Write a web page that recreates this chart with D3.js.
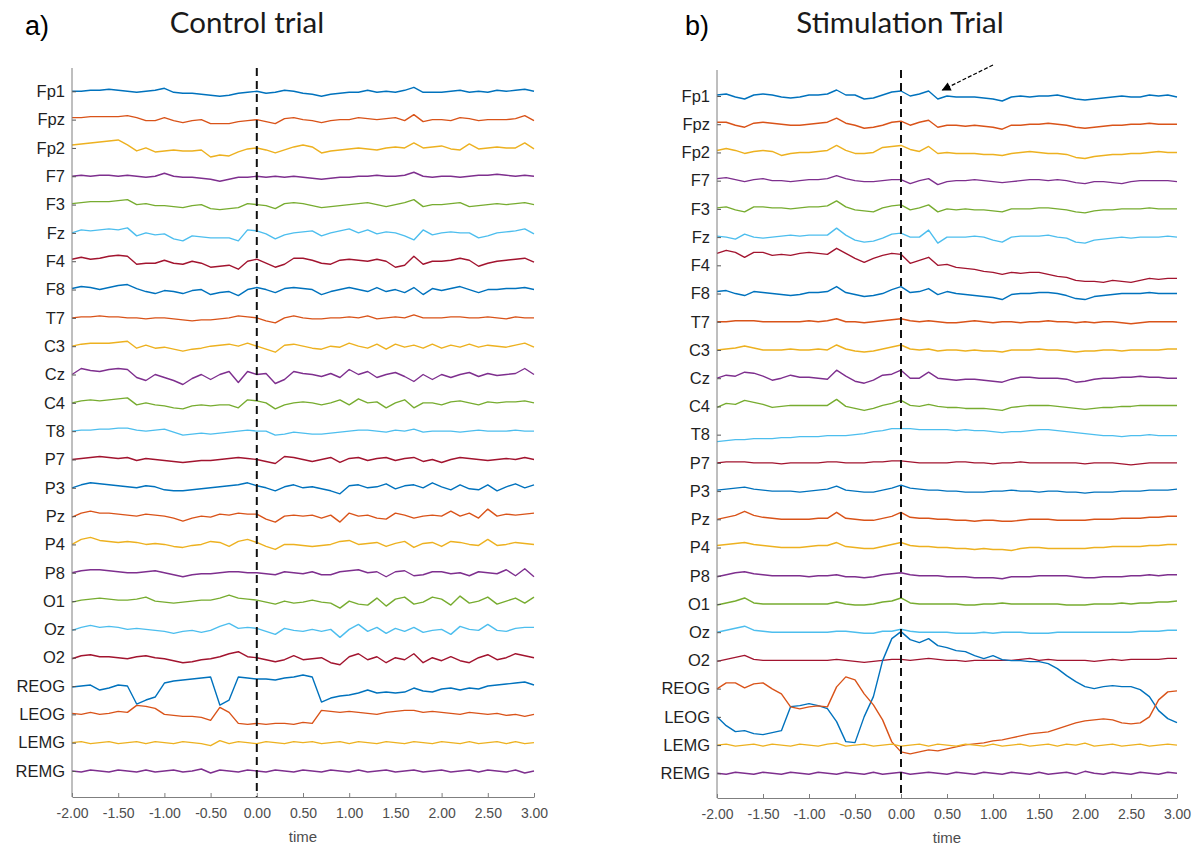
<!DOCTYPE html>
<html lang="en">
<head>
<meta charset="UTF-8">
<title>EEG - control vs stimulation trial</title>
<style>
  body { margin: 0; background: #fff; }
  svg { display: block; }
</style>
</head>
<body>
<svg id="chart" width="1201" height="848"></svg>
<script src="https://cdn.jsdelivr.net/npm/d3@7/dist/d3.min.js"></script>
<script>
// channel names, top to bottom
const channels = ['Fp1', 'Fpz', 'Fp2', 'F7', 'F3', 'Fz', 'F4', 'F8', 'T7', 'C3', 'Cz', 'C4', 'T8',
  'P7', 'P3', 'Pz', 'P4', 'P8', 'O1', 'Oz', 'O2', 'REOG', 'LEOG', 'LEMG', 'REMG'];
const timeTicks = [-2, -1.5, -1, -0.5, 0, 0.5, 1, 1.5, 2, 2.5, 3];
// one sample every 0.1 s from -2.0 to 3.0
const sampleTimes = d3.range(51).map(i => -2 + i / 10);

// ---- a) control trial, amplitudes (uV, up = positive)
const ctrlFp1 = [0,0,1,1,2,1,0,-1,0,1, 3,-1,-2,-2,-3,-4,-5,-4,-2,-1, 0,-2,-1,1,0,-2,-3,-5,-3,-2, -1,-1,1,-1,0,-1,1,4,-1,-1, -1,0,1,-1,0,-1,1,0,1,2, 0];
const ctrlFpz = [2,2,3,3,3,3,4,2,-1,-1, 2,-1,-3,-1,0,-4,-4,-4,-2,-1, 0,-2,-4,1,2,0,-1,-3,-1,0, 0,2,1,0,1,2,-1,5,-2,0, 0,-1,2,1,-1,0,0,0,1,4, -1];
const ctrlFp2 = [3,4,5,6,7,8,3,-3,0,-4, -3,-2,-3,-3,-2,-9,-7,-8,-4,-1, 0,-2,-5,-2,1,3,1,-5,-3,-2, -1,0,-1,-2,0,1,0,5,0,1, 2,-1,-2,4,-1,0,1,0,0,5, -1];
const ctrlF7 = [0,1,0,1,1,0,1,0,-1,0, 3,0,-1,-1,-2,-3,-5,-3,-1,-1, 0,-1,0,-1,0,-1,-2,-3,-2,-1, -1,0,0,1,0,0,1,4,0,-1, 0,0,-1,0,1,1,2,1,0,1, 0];
const ctrlF3 = [1,2,3,3,3,4,5,0,1,-1, -1,-2,-3,-1,0,-4,-5,-4,-3,1, 0,-1,-4,1,2,1,-1,-3,-2,-1, 0,1,2,0,-2,0,2,5,-2,0, 0,1,2,-2,-1,0,1,0,1,2, 0];
const ctrlFz = [0,3,2,3,4,3,5,-3,0,-2, -1,-6,-8,-3,-4,-5,-5,-5,-8,3, 2,-1,-6,-2,0,1,2,-3,0,2, 4,0,3,-1,1,0,-3,-7,3,-2, 0,1,0,0,-5,-3,0,1,2,4, -1];
const ctrlF4 = [2,4,2,3,5,6,5,-3,-2,-2, 1,-2,-3,0,-2,-6,-5,-4,-8,0, 2,-2,-6,-3,3,3,1,-2,-3,1, 2,1,0,2,0,-6,-4,5,-3,0, 0,1,3,1,-5,-2,0,1,2,3, -1];
const ctrlF8 = [1,3,2,0,2,4,5,1,-2,-4, -1,-2,-4,-1,0,-5,-3,-2,-6,0, 2,0,-3,1,2,1,0,-5,-2,0, 2,0,-2,2,-2,0,-3,2,-5,1, -1,1,3,0,-3,0,0,1,1,2, 0];
const ctrlT7 = [0,1,1,2,1,1,0,0,-1,0, 0,-1,-2,-3,-2,-2,-1,0,2,1, 0,-3,-5,0,2,0,-1,-1,0,0, 1,0,2,-1,0,1,0,3,0,0, 0,1,1,0,0,1,0,-1,1,0, 0];
const ctrlC3 = [0,2,3,3,3,4,5,-2,1,-2, -1,-3,-5,-3,-2,0,1,2,0,3, 0,-3,-6,1,2,0,-2,-3,0,-1, 3,0,-2,2,-3,2,-1,1,-2,2, -2,1,-1,2,-1,1,0,-1,1,3, -1];
const ctrlCz = [0,6,4,3,5,6,5,-3,-6,0, -3,-6,-10,-4,0,-5,0,3,-8,3, 0,1,-9,-5,3,1,0,-2,1,-3, 5,0,3,-3,0,2,-2,-7,0,-5, 0,-3,0,2,-2,1,-1,0,1,6, 0];
const ctrlC4 = [0,2,3,2,3,4,5,-2,0,-2, -3,-5,-6,-3,-2,-3,-2,-2,-5,3, 2,0,-6,-2,0,1,0,-2,0,3, -2,4,0,1,-5,0,3,-5,0,0, -2,1,2,0,-2,1,0,1,1,2, 0];
const ctrlT8 = [0,1,1,2,2,3,3,1,0,1, 2,-1,-4,-3,-2,-3,-2,-1,0,1, 0,0,-4,-3,-1,-2,-3,-3,-2,-1, 0,1,1,0,-1,1,0,2,-1,0, 0,0,-1,0,1,0,0,0,1,0, 0];
const ctrlP7 = [0,1,2,3,2,1,2,-1,1,0, -1,-2,-3,-2,-1,-1,0,1,2,1, 0,-2,-4,3,2,0,-2,0,2,-3, 1,2,-1,1,2,-1,1,2,-2,0, -3,0,2,1,0,-1,0,1,0,2, 0];
const ctrlP3 = [0,3,5,4,3,2,1,0,2,1, -2,-3,-3,-2,-1,0,1,2,3,5, 2,0,-3,1,3,0,1,-1,-3,-6, 2,3,0,1,4,-1,2,3,0,5, 1,-2,3,-1,-2,3,-3,1,4,0, 3];
const ctrlPz = [-1,3,5,3,3,2,1,0,2,1, 0,-2,-5,-2,0,-1,2,1,3,2, 2,-3,-6,0,1,0,1,-2,1,-6, 3,0,1,-2,-3,3,1,-2,0,1, 0,5,0,3,-2,7,0,2,1,2, 3];
const ctrlP4 = [0,5,7,4,3,2,3,2,0,1, 0,-2,-3,-1,0,3,2,-2,3,5, 2,-2,-5,0,0,-1,-2,-1,0,3, 4,0,1,2,-2,1,3,-3,1,2, -2,3,2,0,-1,5,-1,0,2,1, 0];
const ctrlP8 = [0,2,3,3,2,1,0,0,1,2, 0,-2,-4,-2,-1,-1,0,1,1,0, 0,-1,-2,1,0,-1,1,-2,-2,1, 2,3,0,1,-4,1,2,-3,-2,1, 1,-1,0,-3,1,0,-1,3,-3,4, -4];
const ctrlO1 = [-1,1,2,3,2,1,1,2,4,0, -1,-2,-1,0,1,1,3,6,3,2, 1,-1,-3,0,-2,-1,1,-1,-2,-7, 0,-3,-4,3,-5,2,4,-3,-1,4, 2,-4,5,-2,0,4,-3,0,3,-2, 4];
const ctrlOz = [-1,2,4,2,3,2,0,1,0,-1, -2,-4,-2,-1,-3,-1,3,6,1,2, 1,-2,-5,1,-1,-2,0,-2,0,-8, 0,5,-2,2,-4,1,-2,2,-3,-1, 0,-5,3,0,-1,5,-1,-2,1,2, 2];
const ctrlO2 = [-1,2,3,1,1,0,-1,1,2,0, -1,-3,-5,-4,-2,-1,1,4,6,1, 0,-2,-4,-2,2,-2,-1,0,-5,-7, 1,4,-2,1,-5,0,-2,4,-5,0, -3,1,-3,-5,0,3,-2,0,4,2, 0];
const ctrlREOG = [-1,0,1,-4,-2,1,0,-18,-14,-11, 3,5,6,7,8,9,-19,-14,9,8, 7,7,6,8,9,11,9,-16,-12,-10, -9,-7,-4,-7,-6,-7,-6,-2,-5,-6, -3,-2,-4,-2,-3,0,1,2,3,4, 1];
const ctrlLEOG = [1,0,2,0,1,3,2,9,8,6, 0,-1,-2,-2,-3,-6,7,2,-9,-10, -9,-10,-9,-9,-10,-8,-9,4,3,2, 3,2,1,0,2,3,4,4,2,3, 2,1,0,2,1,0,1,-1,0,-2, 0];
const ctrlLEMG = [0,1,-1,0,1,-1,0,1,-1,1, 0,-1,1,0,-1,-3,2,-1,1,0, -1,1,0,-1,1,0,1,-1,0,1, -1,1,0,-1,1,0,-1,1,0,-1, 1,0,-1,1,-1,0,1,-1,1,-1, 0];
const ctrlREMG = [0,-1,1,0,-1,1,0,-1,1,-1, 0,1,-1,0,2,-2,1,0,-1,1, 0,-1,1,0,-1,1,0,-1,1,0, -1,1,-1,0,1,-1,0,1,-1,0, 1,-1,0,1,-1,1,0,-1,1,-2, 0];

// ---- b) stimulation trial
const stimFp1 = [1,2,-1,-3,1,2,1,-1,-2,-1, 1,1,2,6,1,1,-3,-2,1,4, 5,0,2,5,-3,0,-1,-1,-1,-2, -3,-5,-1,0,-1,0,0,1,-1,-3, -4,-3,-2,-1,0,-1,-1,1,0,1, -1];
const stimFpz = [2,2,-1,-3,1,2,1,0,-1,-1, 0,1,2,6,1,-1,-4,-3,-1,2, 3,-1,2,4,-3,-1,-1,-2,-1,-2, -3,-5,-1,-1,0,0,1,0,-1,-3, -4,-3,-2,-1,-1,0,0,1,0,0, 0];
const stimFp2 = [2,4,2,-1,1,2,1,-3,-1,0, 0,1,2,7,2,-1,-1,0,5,6, 7,3,1,6,-1,0,-1,-1,-1,-2, -2,-3,-1,0,1,0,-1,-1,-2,-5, -6,-4,-3,-2,-2,-1,-1,0,1,0, 0];
const stimF7 = [2,3,1,-1,1,2,0,0,-1,0, 1,1,2,5,2,0,-1,-1,0,1, 1,-3,0,2,-4,-1,0,0,1,0, -1,-2,-1,0,1,1,0,1,0,-2, -3,-1,-1,-2,-3,-1,0,0,0,0, -1];
const stimF3 = [1,2,-1,-3,2,2,1,1,0,1, 2,2,3,8,2,-1,-2,-3,1,3, 4,-1,1,4,-3,0,-1,0,-1,-1, -2,-3,0,0,0,1,1,0,-1,-3, -4,-2,-1,-1,0,0,0,1,0,0, 0];
const stimFz = [1,0,-2,3,0,-1,0,1,2,1, 2,2,2,9,2,-3,-5,-4,-1,3, 4,0,0,7,-6,0,0,0,1,0, -3,-5,0,1,1,1,2,0,-1,-5, -6,-3,-2,-1,0,-1,0,0,0,1, 0];
const stimF4 = [12,15,13,8,13,13,10,11,10,12, 13,12,11,17,12,7,3,7,10,12, 11,2,5,8,0,1,-2,-3,-4,-6, -7,-9,-7,-8,-7,-7,-9,-11,-12,-15, -16,-16,-17,-15,-16,-17,-15,-13,-14,-13, -13];
const stimF8 = [2,3,0,-2,2,1,0,-1,-2,-1, 1,1,2,7,1,-1,-3,-2,0,4, 7,1,2,5,-1,2,0,-1,-2,-3, -4,-6,-1,0,0,1,1,0,-2,-5, -6,-3,-2,-1,0,0,0,1,0,0, 0];
const stimT7 = [0,0,1,1,1,0,0,0,0,0, 1,0,1,3,0,0,-1,0,1,2, 3,1,0,1,0,-1,-1,0,1,0, -1,0,0,-1,0,0,1,0,0,-1, 0,-1,0,0,-1,-2,-1,0,0,0, 0];
const stimC3 = [0,1,2,4,2,0,0,0,1,0, 0,1,0,5,1,-1,-2,-1,1,3, 5,1,0,1,-1,0,0,-1,0,-1, -1,-2,0,0,0,1,0,0,-1,-2, -1,-1,0,0,-1,0,0,0,0,1, 1];
const stimCz = [0,3,2,6,5,2,-2,0,3,1, 1,0,-1,8,2,-3,-5,-2,3,4, 8,0,0,6,0,-1,-2,-1,-1,-2, -3,-4,-1,1,1,0,0,0,-1,-4, -3,-1,0,0,1,1,2,1,1,0, 0];
const stimC4 = [-1,3,2,6,4,2,-1,0,1,1, 1,1,1,7,0,-2,-4,-2,1,3, 6,1,0,2,0,-1,-1,-2,-2,-2, -3,-4,-1,0,1,1,1,0,-1,-2, -3,-2,-1,-1,0,0,1,1,1,1, 1];
const stimT8 = [-7,-6,-5,-5,-4,-4,-4,-3,-3,-2, -2,-2,-1,-1,-1,0,1,3,4,6, 6,6,5,5,5,5,4,5,4,4, 3,2,3,3,4,5,5,4,3,2, 1,0,-1,-1,-2,-1,-1,0,-1,-1, -1];
const stimP7 = [0,1,1,1,0,0,0,-1,0,0, 0,0,1,1,0,0,0,1,1,2, 2,1,0,0,0,0,1,1,0,0, -1,0,0,1,0,0,0,0,0,0, -1,0,0,0,-1,-2,-1,0,0,0, 0];
const stimP3 = [1,2,3,4,2,1,0,0,0,-1, 0,1,2,5,1,0,-1,-1,1,3, 6,3,2,1,1,0,0,-1,-1,-1, 0,0,1,0,0,-1,0,0,-1,-1, -2,-1,-1,-1,0,0,0,1,1,1, 2];
const stimPz = [0,2,4,8,4,2,1,0,0,0, 0,1,1,7,1,0,-1,-1,1,3, 7,2,1,1,0,0,-1,-1,-2,-1, -1,-2,-2,-1,0,0,0,-1,-1,-1, -1,0,0,0,1,1,1,2,2,3, 3];
const stimP4 = [2,3,4,5,3,2,1,0,0,0, 1,2,2,5,1,0,-1,-1,1,3, 5,2,1,1,0,0,-1,-1,-2,-1, -2,-2,-3,-1,0,0,-1,-1,-1,-1, -1,0,0,1,1,1,1,2,2,3, 3];
const stimP8 = [-1,1,3,4,2,1,0,0,0,0, -1,0,0,1,-1,-1,-2,-1,1,2, 3,1,0,0,0,-1,-1,-1,-2,-2, -2,-3,-1,-1,-1,0,0,0,0,-1, -2,-2,-1,-1,-1,0,0,1,0,1, 1];
const stimO1 = [-1,1,3,6,1,0,0,0,0,0, 0,0,0,2,0,-1,-1,0,2,3, 6,1,0,0,0,0,0,-1,-1,0, 0,1,0,0,0,0,0,0,-1,-1, -1,0,0,0,1,0,1,1,2,2, 3];
const stimOz = [0,2,4,6,2,1,0,0,0,0, 0,0,0,1,1,0,-1,-1,1,1, 3,1,0,0,0,0,-1,-1,-1,0, -1,0,0,0,-1,-1,-1,0,0,0, 0,0,0,0,0,0,1,1,1,2, 2];
const stimO2 = [-1,1,3,5,1,0,0,0,0,0, 0,0,0,1,0,-1,-2,-1,0,1, 1,0,1,2,1,0,0,-1,0,0, 0,0,0,1,2,0,1,0,0,0, 0,-1,0,1,0,1,1,1,1,2, 2];
const stimREOG = [-28,-37,-43,-42,-45,-46,-44,-42,-18,-17, -15,-17,-20,-33,-53,-54,-28,-8,28,50, 57,49,46,50,43,41,38,37,33,30, 33,29,28,28,27,27,25,20,13,7, 2,0,2,3,2,2,-1,-8,-22,-30, -34];
const stimLEOG = [28,34,34,29,33,34,28,23,10,8, 10,11,10,30,40,37,23,12,-3,-25, -35,-37,-35,-33,-34,-32,-30,-28,-27,-26, -24,-23,-21,-19,-17,-16,-15,-12,-9,-6, -4,-3,-2,-3,-6,-7,-6,0,17,25, 26];
const stimLEMG = [0,1,-1,0,1,-1,1,0,-1,1, 0,-1,1,2,-1,0,1,-1,0,1, -1,0,1,-1,1,0,-1,1,0,-1, 1,-1,0,1,-1,0,1,-1,1,0, 2,-1,0,1,-1,0,1,-1,0,1, 0];
const stimREMG = [0,-1,1,0,-1,1,0,-1,1,0, -1,1,0,-1,1,0,-1,1,-1,0, 1,-1,0,1,0,-1,1,0,-1,1, 0,-1,1,0,-1,1,-1,0,1,-1, 2,0,-1,1,0,-1,1,0,-1,1, 0];

const ctrlSeries = [ctrlFp1, ctrlFpz, ctrlFp2, ctrlF7, ctrlF3, ctrlFz, ctrlF4, ctrlF8, ctrlT7, ctrlC3, ctrlCz, ctrlC4, ctrlT8,
  ctrlP7, ctrlP3, ctrlPz, ctrlP4, ctrlP8, ctrlO1, ctrlOz, ctrlO2, ctrlREOG, ctrlLEOG, ctrlLEMG, ctrlREMG];
const stimSeries = [stimFp1, stimFpz, stimFp2, stimF7, stimF3, stimFz, stimF4, stimF8, stimT7, stimC3, stimCz, stimC4, stimT8,
  stimP7, stimP3, stimPz, stimP4, stimP8, stimO1, stimOz, stimO2, stimREOG, stimLEOG, stimLEMG, stimREMG];

// matlab default line colours, cycled over the channels
const lineColors = ['#0072BD', '#D95319', '#EDB120', '#7E2F8E', '#77AC30', '#4DBEEE', '#A2142F'];

const svg = d3.select('#chart');

function drawPanel(p) {
  const g = svg.append('g');
  const x = d3.scaleLinear().domain([-2, 3]).range([p.left, p.right]);
  const y = d3.scalePoint().domain(channels).range([p.firstRow, p.lastRow]);
  // 1 uV = 1 px, positive is up
  const amp = d3.scaleLinear().domain([0, 1]).range([0, -1]);

  // traces
  const line = d3.line()
    .x((d, i) => x(sampleTimes[i]))
    .y(d => d.base + amp(d.v));
  channels.forEach((ch, k) => {
    const pts = p.series[k].map(v => ({ v, base: y(ch) }));
    g.append('path')
      .attr('d', line(pts))
      .attr('fill', 'none')
      .attr('stroke', lineColors[k % lineColors.length])
      .attr('stroke-width', 1.4)
      .attr('stroke-linejoin', 'round');
  });

  // stimulus onset
  g.append('line')
    .attr('x1', x(0)).attr('x2', x(0))
    .attr('y1', p.top).attr('y2', p.bottom)
    .attr('stroke', '#111').attr('stroke-width', 2)
    .attr('stroke-dasharray', '8,5');

  // bottom axis
  const xAxis = g.append('g')
    .attr('transform', `translate(0,${p.bottom})`)
    .call(d3.axisBottom(x).tickValues(timeTicks).tickFormat(d => d.toFixed(2))
      .tickSizeInner(-4).tickSizeOuter(0).tickPadding(11));
  xAxis.select('.domain').attr('stroke', '#7f7f7f');
  xAxis.selectAll('.tick line').attr('stroke', '#7f7f7f');
  xAxis.selectAll('text')
    .attr('fill', '#4d4d4d')
    .style('font', '14px "Liberation Sans", Arial, sans-serif');

  g.append('text')
    .attr('x', (p.left + p.right) / 2).attr('y', p.bottom + 45)
    .attr('text-anchor', 'middle')
    .attr('fill', '#4d4d4d')
    .style('font', '15px "Liberation Sans", Arial, sans-serif')
    .text('time');

  // left axis with the channel names
  const yAxis = g.append('g')
    .attr('transform', `translate(${p.left},0)`)
    .call(d3.axisLeft(y).tickSizeInner(-4).tickSizeOuter(0).tickPadding(7));
  yAxis.select('.domain').remove();
  yAxis.selectAll('.tick line').attr('stroke', '#555');
  yAxis.selectAll('text')
    .attr('fill', '#1f1f1f')
    .style('font', '16.5px "Liberation Sans", Arial, sans-serif');
  g.append('line')
    .attr('x1', p.left).attr('x2', p.left)
    .attr('y1', p.top).attr('y2', p.bottom)
    .attr('stroke', '#7f7f7f');

  // panel letter and title
  g.append('text')
    .attr('x', p.letterX).attr('y', 35)
    .attr('fill', '#000')
    .style('font', '27px "Liberation Sans", Arial, sans-serif')
    .text(p.letter);
  g.append('text')
    .attr('x', p.titleX).attr('y', 33)
    .attr('text-anchor', 'middle')
    .attr('fill', '#1a1a1a')
    .style('font', '29.5px Lato, "Open Sans", sans-serif')
    .text(p.title);

  return { x, y, amp, g };
}

drawPanel({
  series: ctrlSeries, left: 72, right: 534, firstRow: 91.3, lastRow: 771,
  top: 68, bottom: 797, letter: 'a)', letterX: 25, title: 'Control trial', titleX: 247
});

const stim = drawPanel({
  series: stimSeries, left: 717, right: 1177, firstRow: 96, lastRow: 773.3,
  top: 70, bottom: 798, letter: 'b)', letterX: 685, title: 'Stimulation Trial', titleX: 900
});

// arrow pointing at the Fp1 response after onset
const arrowTail = { t: 1.0, uv: 31 };
const arrowHead = { t: 0.45, uv: 6 };
svg.append('defs').append('marker')
  .attr('id', 'head')
  .attr('viewBox', '0 0 10 10')
  .attr('refX', 9).attr('refY', 5)
  .attr('markerWidth', 12).attr('markerHeight', 9)
  .attr('markerUnits', 'userSpaceOnUse')
  .attr('orient', 'auto')
  .append('path').attr('d', 'M0,0L10,5L0,10Z').attr('fill', '#000');
const fp1Base = stim.y('Fp1');
stim.g.append('line')
  .attr('x1', stim.x(arrowTail.t)).attr('y1', fp1Base + stim.amp(arrowTail.uv))
  .attr('x2', stim.x(arrowHead.t)).attr('y2', fp1Base + stim.amp(arrowHead.uv))
  .attr('stroke', '#000').attr('stroke-width', 1.2)
  .attr('stroke-dasharray', '4,2')
  .attr('marker-end', 'url(#head)');
</script>
</body>
</html>
